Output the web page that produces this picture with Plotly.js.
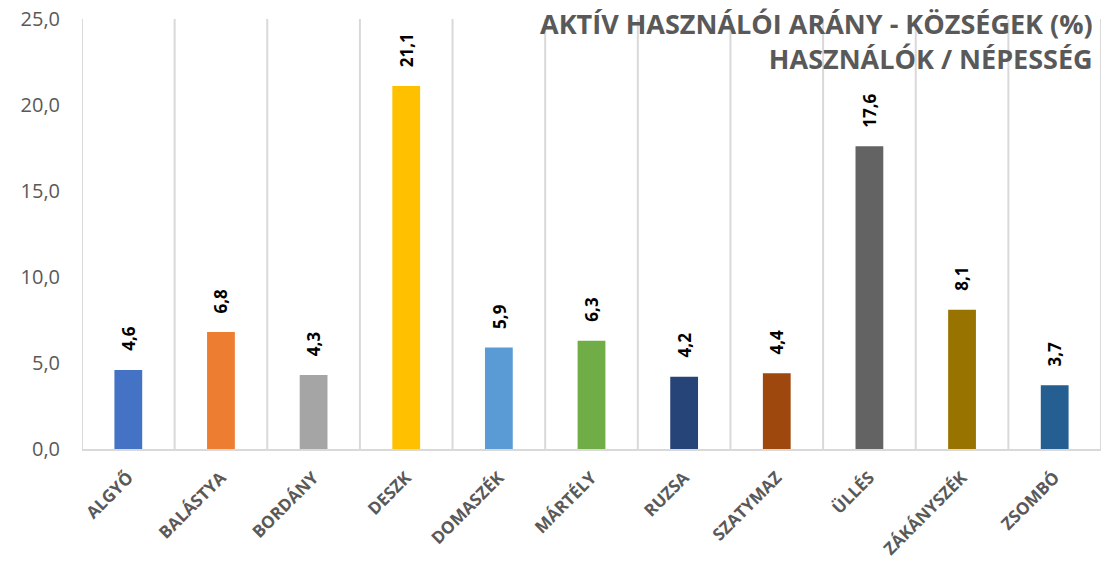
<!DOCTYPE html>
<html><head><meta charset="utf-8">
<script src="https://cdn.plot.ly/plotly-3.0.1.min.js"></script>
<style>html,body{margin:0;padding:0;background:#fff}#c{width:1106px;height:563px}</style>
</head><body><div id="c"></div>
<script>
const categories = ["ALGYŐ","BALÁSTYA","BORDÁNY","DESZK","DOMASZÉK","MÁRTÉLY","RUZSA","SZATYMAZ","ÜLLÉS","ZÁKÁNYSZÉK","ZSOMBÓ"];
const values = [4.6, 6.8, 4.3, 21.1, 5.9, 6.3, 4.2, 4.4, 17.6, 8.1, 3.7];
const colors = ["#4472C4","#ED7D31","#A5A5A5","#FFC000","#5B9BD5","#70AD47","#264478","#9E480E","#636363","#997300","#255E91"];
const yTicks = [0,5,10,15,20,25];
const yTickLabels = ["0,0","5,0","10,0","15,0","20,0","25,0"];
const titleText = "AKTÍV HASZNÁLÓI ARÁNY - KÖZSÉGEK (%)<br>HASZNÁLÓK / NÉPESSÉG";

const labels = values.map(v => v.toFixed(1).replace('.', ','));
const font = "Open Sans, sans-serif";

const trace = {
  type: 'bar', x: categories, y: values,
  marker: {color: colors}, hoverinfo: 'none'
};

// vertical gridlines at category boundaries
const shapes = [];
for (let i = 0; i <= categories.length; i++) {
  shapes.push({type:'line', xref:'x', yref:'paper', x0:i-0.5, x1:i-0.5, y0:0, y1:1,
    line:{color:'#D9D9D9', width:2}, layer:'below'});
}

const annotations = categories.map((c, i) => ({
  xref: 'x', yref: 'y', x: c, y: values[i], xanchor: 'center', yanchor: 'bottom',
  yshift: 17, textangle: -90, text: labels[i], showarrow: false,
  font: {family: font, size: 17, color: '#000000', weight: 'bold'}
}));
annotations.push({
  xref: 'paper', yref: 'paper', x: 0.9945, y: 1.037, xanchor: 'right', yanchor: 'top',
  text: titleText, align: 'right', showarrow: false,
  font: {family: font, size: 27, color: '#595959', weight: 'bold'}
});

const layout = {
  width: 1106, height: 563,
  margin: {l: 82, r: 5, t: 19, b: 114},
  paper_bgcolor: '#ffffff', plot_bgcolor: '#ffffff',
  bargap: 0.7, showlegend: false,
  xaxis: {
    type: 'category', range: [-0.5, categories.length - 0.5],
    tickangle: -45, showgrid: false, zeroline: false,
    showline: true, linecolor: '#D9D9D9', linewidth: 2, ticks: '',
    ticklabelstandoff: 10,
    tickfont: {family: font, size: 17, color: '#595959', weight: 'bold'}
  },
  yaxis: {
    range: [0, 25], tickvals: yTicks, ticktext: yTickLabels,
    showgrid: false, zeroline: false, showline: false, ticks: '',
    ticklabelstandoff: 21,
    tickfont: {family: font, size: 20, color: '#595959'}
  },
  shapes: shapes,
  annotations: annotations
};

Plotly.newPlot('c', [trace], layout, {displayModeBar: false, staticPlot: true});
</script></body></html>
